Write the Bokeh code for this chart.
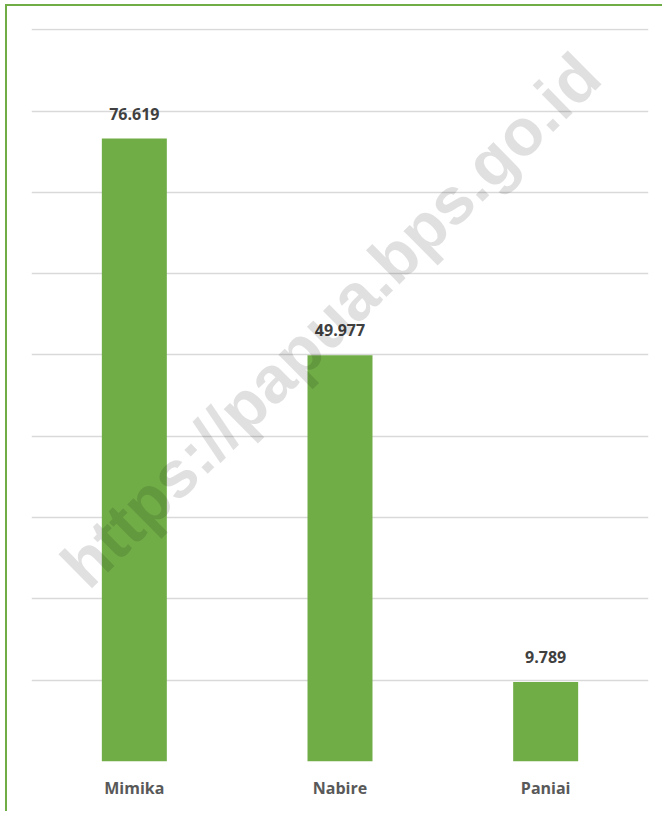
from bokeh.plotting import figure
from bokeh.models import ColumnDataSource, FixedTicker, Range1d, Label, LabelSet
from bokeh.core.properties import value
from bokeh.embed import file_html
from bokeh.resources import INLINE

categories = ["Mimika", "Nabire", "Paniai"]
values = [76.619, 49.977, 9.789]
value_labels = ["76.619", "49.977", "9.789"]
y_ticks = [0, 10, 20, 30, 40, 50, 60, 70, 80, 90]
watermark = "https://papua.bps.go.id"

GREEN = "#70AD47"
FONT = "Open Sans"

source = ColumnDataSource(dict(cat=categories, val=values, lab=value_labels))

p = figure(x_range=categories, y_range=Range1d(0, 90.15), width=657, height=807,
           output_backend="svg", toolbar_location=None,
           min_border_left=24, min_border_right=16, min_border_top=22, min_border_bottom=52)
p.styles = {"border-top": "2px solid " + GREEN, "border-left": "2px solid " + GREEN,
            "margin-left": "5px", "margin-top": "4px"}
p.outline_line_color = None
p.background_fill_color = "white"
p.border_fill_color = "white"

p.vbar(x="cat", top="val", width=0.316, source=source, color=GREEN, line_color=None)

p.yaxis.visible = False
p.yaxis.ticker = FixedTicker(ticks=y_ticks)
p.ygrid.ticker = FixedTicker(ticks=y_ticks)
p.ygrid.grid_line_color = "#d9d9d9"
p.ygrid.grid_line_width = 1.5
p.xgrid.grid_line_color = None

p.xaxis.axis_line_color = None
p.xaxis.major_tick_line_color = None
p.xaxis.minor_tick_line_color = None
p.xaxis.major_label_text_font = FONT
p.xaxis.major_label_text_font_style = "bold"
p.xaxis.major_label_text_font_size = "16px"
p.xaxis.major_label_text_color = "#595959"
p.xaxis.major_label_standoff = 9

labels = LabelSet(x="cat", y="val", text="lab", source=source, text_align="center",
                  text_baseline="middle", y_offset=25, text_font=value(FONT),
                  text_font_style="bold", text_font_size="16px", text_color="#404040")
p.add_layout(labels)

wm = Label(x=1.454, y=54.3, text=watermark, angle=0.78, text_align="center",
           text_baseline="middle", text_font="Liberation Sans", text_font_style="bold",
           text_font_size="66px", text_color="black", text_alpha=0.12)
p.add_layout(wm)

open("out.html", "w").write(file_html(p, INLINE))
